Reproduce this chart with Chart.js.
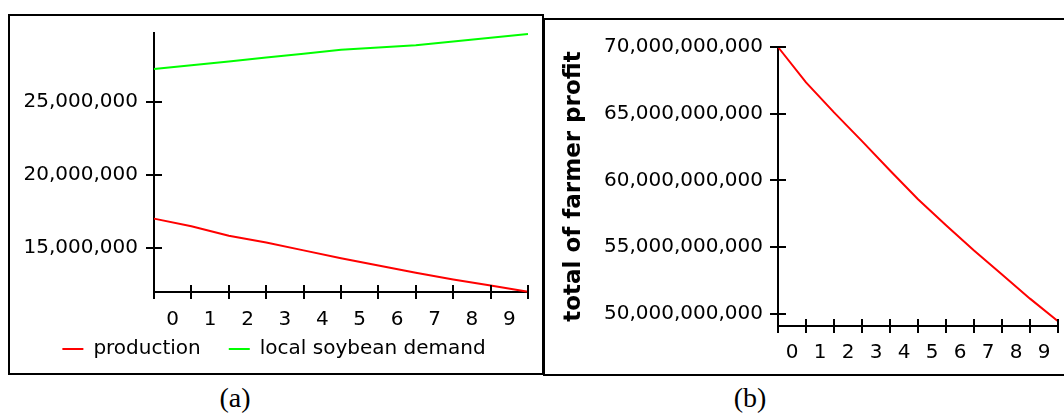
<!DOCTYPE html>
<html>
<head>
<meta charset="utf-8">
<script src="https://cdn.jsdelivr.net/npm/chart.js@4.4.0/dist/chart.umd.min.js"></script>
<style>
  html, body { margin: 0; padding: 0; background: #fff; width: 1064px; height: 416px; overflow: hidden; }
  .panel { position: absolute; box-sizing: border-box; border: 2px solid #000; background: #fff; overflow: hidden; }
  #pa { left: 8px; top: 14px; width: 536px; height: 361px; }
  #pb { left: 543px; top: 18px; width: 560px; height: 358px; }
  .panel canvas { position: absolute; left: 0; top: 0; }
  .cap { position: absolute; top: 382px; width: 80px; text-align: center;
         font-family: "Liberation Serif", "Times New Roman", serif; font-size: 28px; line-height: 32px; color: #000; }
</style>
</head>
<body>
<div class="panel" id="pa"><canvas id="chartA" width="532" height="357"></canvas></div>
<div class="panel" id="pb"><canvas id="chartB" width="556" height="354"></canvas></div>
<div class="cap" style="left:195px">(a)</div>
<div class="cap" style="left:710px">(b)</div>

<script>
// Time axis: values are recorded at period boundaries 0..10, labels sit in the middle of each period
const periodLabels = ['0', '1', '2', '3', '4', '5', '6', '7', '8', '9'];
const time = [0, 1, 2, 3, 4, 5, 6, 7, 8, 9, 10];

// Soybean market
const production = [17.00e6, 16.48e6, 15.82e6, 15.36e6, 14.82e6, 14.28e6, 13.78e6, 13.28e6, 12.82e6, 12.40e6, 11.98e6];
const localDemand = [27.28e6, 27.54e6, 27.80e6, 28.07e6, 28.33e6, 28.60e6, 28.76e6, 28.91e6, 29.16e6, 29.42e6, 29.68e6];
const soyTicks = [15e6, 20e6, 25e6];

// Farmer profit
const farmerProfit = [70.0e9, 67.35e9, 65.1e9, 62.95e9, 60.75e9, 58.6e9, 56.65e9, 54.75e9, 52.95e9, 51.15e9, 49.45e9];
const profitTicks = [50e9, 55e9, 60e9, 65e9, 70e9];

const FONT = '"DejaVu Sans", Verdana, sans-serif';

function points(xs, ys) { return xs.map((t, i) => ({ x: t, y: ys[i] })); }

// Tick marks that cross the axis lines (both sides)
const crossTicks = {
  id: 'crossTicks',
  afterDraw(chart, args, opts) {
    const { ctx, chartArea } = chart;
    const xs = chart.scales.x, ys = chart.scales.y;
    ctx.save();
    ctx.strokeStyle = '#000';
    ctx.lineWidth = 2;
    ctx.beginPath();
    ys.ticks.forEach(t => {
      const py = Math.round(ys.getPixelForValue(t.value));
      ctx.moveTo(chartArea.left - opts.y, py);
      ctx.lineTo(chartArea.left + opts.y, py);
    });
    for (let i = 0; i <= periodLabels.length; i++) {
      const px = Math.round(xs.getPixelForValue(i));
      ctx.moveTo(px, chartArea.bottom - opts.x);
      ctx.lineTo(px, chartArea.bottom + opts.x);
    }
    ctx.stroke();
    ctx.restore();
  }
};

function timeAxis(height, pad) {
  return {
    type: 'linear', min: 0, max: periodLabels.length,
    grid: { display: false, drawTicks: false },
    border: { display: true, color: '#000', width: 2 },
    afterBuildTicks: s => { s.ticks = periodLabels.map((l, i) => ({ value: i + 0.5 })); },
    afterFit: s => {
      s.height = height;
      s.paddingLeft = 0; s.paddingRight = 0;
      // labels may hang below a short axis box, so don't clip them to it
      s._computeLabelArea = () => undefined;
    },
    ticks: {
      autoSkip: false, maxRotation: 0, padding: pad, color: '#000',
      font: { family: FONT, size: 20 },
      callback: v => periodLabels[Math.floor(v)]
    }
  };
}

function valueAxis(min, max, tickVals, width, pad) {
  return {
    type: 'linear', min: min, max: max,
    grid: { display: false, drawTicks: false },
    border: { display: true, color: '#000', width: 2 },
    afterBuildTicks: s => { s.ticks = tickVals.map(v => ({ value: v })); },
    afterFit: s => { s.width = width; s.paddingTop = 0; s.paddingBottom = 0; },
    ticks: {
      padding: pad, color: '#000',
      font: { family: FONT, size: 20 },
      callback: v => Number(v).toLocaleString('en-US')
    }
  };
}

const common = {
  responsive: false,
  animation: false,
  devicePixelRatio: 1,
  elements: { point: { radius: 0 }, line: { tension: 0, borderWidth: 2 } },
  plugins: { tooltip: { enabled: false }, crossTicks: { x: 7, y: 8 } }
};

new Chart(document.getElementById('chartA'), {
  type: 'line',
  data: {
    datasets: [
      { label: 'production', data: points(time, production), borderColor: '#ff0000', backgroundColor: '#ff0000', borderWidth: 2, clip: false },
      { label: 'local soybean demand', data: points(time, localDemand), borderColor: '#00ff00', backgroundColor: '#00ff00', borderWidth: 2, clip: false }
    ]
  },
  options: {
    ...common,
    layout: { padding: { top: 17, right: 14, bottom: 4, left: 10 } },
    scales: {
      x: timeAxis(19, 16),
      y: valueAxis(11.96e6, 29.75e6, soyTicks, 134, 16)
    },
    plugins: {
      ...common.plugins,
      legend: {
        display: true, position: 'bottom', align: 'center',
        labels: {
          usePointStyle: true, pointStyle: 'line', pointStyleWidth: 21,
          padding: 28, color: '#000', font: { family: FONT, size: 20 }
        }
      }
    }
  },
  plugins: [crossTicks]
});

new Chart(document.getElementById('chartB'), {
  type: 'line',
  data: {
    datasets: [
      { label: 'total of farmer profit', data: points(time, farmerProfit), borderColor: '#ff0000', backgroundColor: '#ff0000', borderWidth: 2, clip: false }
    ]
  },
  options: {
    ...common,
    layout: { padding: { top: 27, right: 43, bottom: 0, left: 0 } },
    scales: {
      x: timeAxis(48, 15),
      y: {
        ...valueAxis(49.1e9, 70e9, profitTicks, 233, 15),
        title: {
          display: true, text: 'total of farmer profit', color: '#000',
          font: { family: FONT, size: 23, weight: 'bold' },
          padding: { top: 15, bottom: 0 }
        }
      }
    },
    plugins: { ...common.plugins, legend: { display: false } }
  },
  plugins: [crossTicks]
});
</script>
</body>
</html>
